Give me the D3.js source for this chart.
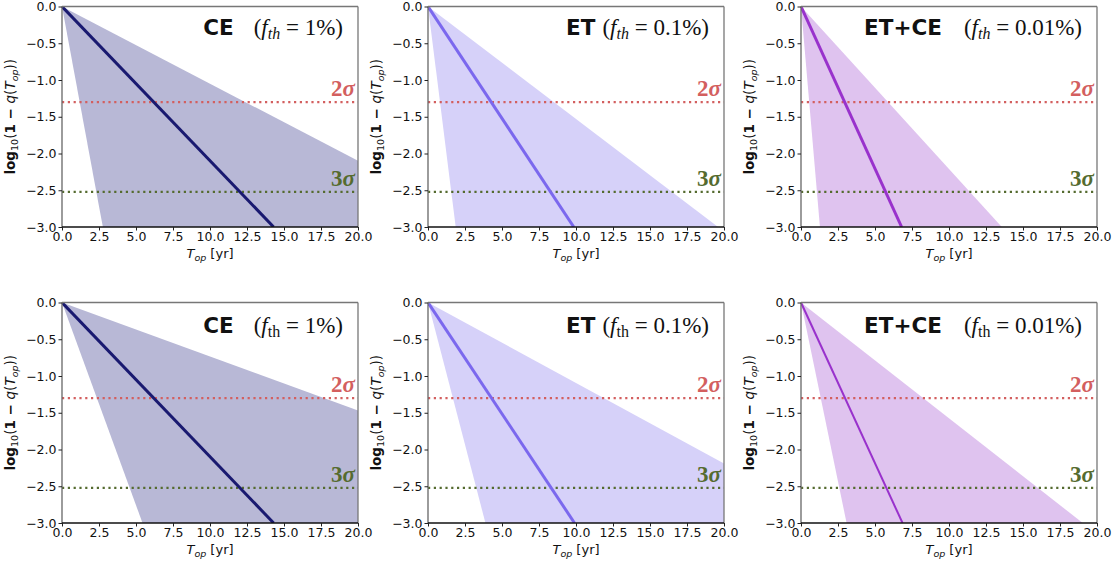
<!DOCTYPE html>
<html>
<head>
<meta charset="utf-8">
<script src="https://d3js.org/d3.v7.min.js"></script>
<style>
  body { margin: 0; background: #fff; }
  .tick text { font-family: "DejaVu Sans", sans-serif; font-size: 12.5px; fill: #111; }
  .tick line { stroke: #222; }
  .domain { display: none; }
</style>
</head>
<body>
<div id="chart"></div>
<script>
// ---- data ----
var xTicks = [0, 2.5, 5, 7.5, 10, 12.5, 15, 17.5, 20];
var yTicks = [0, -0.5, -1, -1.5, -2, -2.5, -3];
var detectors = ["CE", "ET", "ET+CE"];
var thresholds = ["1%", "0.1%", "0.01%"];
// end points of the median line (all start at T=0, log=0)
var centralEnd = [[14.3, -3], [9.85, -3], [6.8, -3], [14.3, -3], [9.9, -3], [6.86, -3]];
// end points of the band edges
var upperEnd = [[20, -2.1], [19.6, -3], [13.57, -3], [20, -1.47], [20, -2.19], [19.04, -3]];
var lowerEnd = [[2.76, -3], [1.87, -3], [1.28, -3], [5.44, -3], [3.88, -3], [3.08, -3]];
var sigmaValues = [-1.301, -2.523];
var sigmaLabels = ["2", "3"];

// ---- styles ----
var lineColors = ["#191970", "#7b68ee", "#9932cc"];
var fillColors = ["#b8b8d6", "#d6d1f9", "#dfc3ef"];
var sigmaColors = ["#d35f5f", "#556b2f"];
var titleGap = [20, 7, 22];

var W = 1116, H = 563;
var colLeft = [62, 428, 801];
var rowTop = [6.5, 302.5];
var pw = 296, ph = 220.5;

var svg = d3.select("#chart").append("svg")
    .attr("width", W).attr("height", H);

var x = d3.scaleLinear().domain([0, 20]).range([0, pw]);
var y = d3.scaleLinear().domain([0, -3]).range([0, ph]);
var line = d3.line().x(function(d) { return x(d[0]); }).y(function(d) { return y(d[1]); });

for (var r = 0; r < 2; r++) {
  for (var c = 0; c < 3; c++) {
    var i = r * 3 + c;
    var g = svg.append("g")
        .attr("transform", "translate(" + colLeft[c] + "," + rowTop[r] + ")");

    var clipId = "clip" + i;
    g.append("clipPath").attr("id", clipId)
      .append("rect").attr("width", pw).attr("height", ph);
    var plot = g.append("g").attr("clip-path", "url(#" + clipId + ")");

    // band
    var poly = [[0, 0], upperEnd[i], [upperEnd[i][0], -3], lowerEnd[i]];
    plot.append("path")
      .attr("d", line(poly) + "Z")
      .attr("fill", fillColors[c]);

    // sigma levels
    sigmaValues.forEach(function(v, k) {
      plot.append("line")
        .attr("x1", 0).attr("x2", pw)
        .attr("y1", y(v)).attr("y2", y(v))
        .attr("stroke", sigmaColors[k])
        .attr("stroke-width", 2.2)
        .attr("stroke-dasharray", "2.2,3.6");
    });

    // median line
    plot.append("path")
      .attr("d", line([[0, 0], centralEnd[i]]))
      .attr("fill", "none")
      .attr("stroke", lineColors[c])
      .attr("stroke-width", i === 5 ? 2 : 3);

    // sigma labels
    sigmaValues.forEach(function(v, k) {
      var t = g.append("text")
        .attr("x", pw - 3).attr("y", y(v) - 6)
        .attr("text-anchor", "end")
        .attr("font-family", "Liberation Serif, serif")
        .attr("font-weight", "bold")
        .attr("font-size", 23)
        .attr("fill", sigmaColors[k]);
      t.append("tspan").text(sigmaLabels[k]);
      t.append("tspan").attr("font-style", "italic").text("σ");
    });

    // frame
    g.append("line").attr("x1", 0).attr("x2", pw).attr("y1", 0).attr("y2", 0).attr("stroke", "#777").attr("stroke-width", 1.3);
    g.append("line").attr("x1", pw).attr("x2", pw).attr("y1", 0).attr("y2", ph).attr("stroke", "#777").attr("stroke-width", 1.3);
    g.append("line").attr("x1", 0).attr("x2", 0).attr("y1", 0).attr("y2", ph).attr("stroke", "#666").attr("stroke-width", 1.3);
    g.append("line").attr("x1", 0).attr("x2", pw).attr("y1", ph).attr("y2", ph).attr("stroke", "#111").attr("stroke-width", 1.3);

    // axes
    g.append("g").attr("transform", "translate(0," + ph + ")")
      .call(d3.axisBottom(x).tickValues(xTicks).tickSize(3.5).tickPadding(2)
        .tickFormat(function(d) { return d3.format(".1f")(d); }));
    g.append("g")
      .call(d3.axisLeft(y).tickValues(yTicks).tickSize(3.5).tickPadding(2)
        .tickFormat(function(d) { return d3.format(".1f")(d).replace("-", "\u2212"); }));

    // x label
    var xl = g.append("text")
      .attr("x", pw / 2).attr("y", ph + 31)
      .attr("text-anchor", "middle")
      .attr("font-family", "DejaVu Sans, sans-serif")
      .attr("font-size", 13).attr("fill", "#111");
    xl.append("tspan").attr("font-style", "italic").text("T");
    xl.append("tspan").attr("font-style", "italic").attr("font-size", 9.5).attr("dy", 3).text("op");
    xl.append("tspan").attr("dy", -3).text(" [yr]");

    // y label
    var yl = g.append("text")
      .attr("transform", "translate(-47," + (ph / 2) + ") rotate(-90)")
      .attr("text-anchor", "middle")
      .attr("font-family", "DejaVu Sans, sans-serif")
      .attr("font-size", 13.5).attr("fill", "#111");
    yl.append("tspan").attr("font-weight", "bold").text("log");
    yl.append("tspan").attr("font-size", 9.5).attr("dy", 3).text("10");
    yl.append("tspan").attr("dy", -3).text("(");
    yl.append("tspan").attr("font-weight", "bold").text("1 \u2212 ");
    yl.append("tspan").attr("font-style", "italic").text("q");
    yl.append("tspan").text("(");
    yl.append("tspan").attr("font-style", "italic").text("T");
    yl.append("tspan").attr("font-style", "italic").attr("font-size", 9.5).attr("dy", 3).text("op");
    yl.append("tspan").attr("dy", -3).text("))");

    // title
    var tt = g.append("text")
      .attr("x", pw - 15).attr("y", r === 0 ? 28.5 : 30)
      .attr("text-anchor", "end")
      .attr("font-size", 23).attr("fill", "#111");
    tt.append("tspan").attr("font-family", "DejaVu Sans, sans-serif").attr("font-weight", "bold")
      .attr("font-size", 21.5).text(detectors[c]);
    tt.append("tspan").attr("dx", titleGap[c]).attr("font-family", "Liberation Serif, serif").text("(");
    tt.append("tspan").attr("font-family", "Liberation Serif, serif").attr("font-style", "italic").text("f");
    tt.append("tspan").attr("font-family", "Liberation Serif, serif")
      .attr("font-style", r === 0 ? "italic" : "normal")
      .attr("font-size", 16).attr("dy", 4).text("th");
    tt.append("tspan").attr("font-family", "Liberation Serif, serif").attr("dy", -4)
      .text(" = " + thresholds[c] + ")");
  }
}
</script>
</body>
</html>
